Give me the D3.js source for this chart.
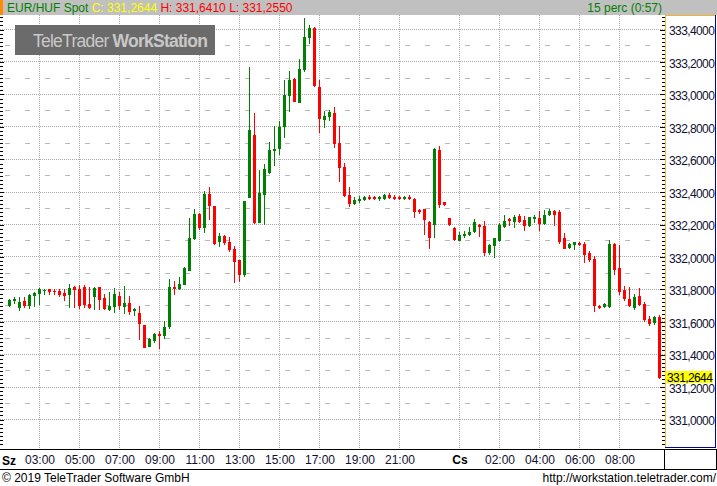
<!DOCTYPE html>
<html><head><meta charset="utf-8">
<script src="https://cdn.jsdelivr.net/npm/d3@7"></script>
<style>
html,body{margin:0;padding:0;background:#fff;}
svg{display:block;font-family:"Liberation Sans",Arial,sans-serif;}
</style></head><body>
<svg id="c" width="717" height="486"></svg>
<script>
// ---- data (EUR/HUF Spot, 15 min candles, Sz 01:30 .. Cs 10:00) ----
const opens = [331.706,331.736,331.693,331.730,331.706,331.769,331.779,331.794,331.800,331.792,
331.790,331.779,331.773,331.816,331.802,331.814,331.712,331.761,331.814,331.749,
331.681,331.700,331.761,331.700,331.718,331.671,331.656,331.581,331.453,331.488,
331.529,331.521,331.576,331.815,331.810,331.835,331.923,332.116,332.264,332.184,
332.387,332.313,332.098,332.128,332.091,332.048,331.981,331.897,332.370,332.750,
332.215,332.387,332.522,332.660,332.670,332.805,332.996,333.094,332.955,333.156,
333.353,333.408,333.045,332.848,332.867,332.887,332.702,332.554,332.382,332.332,
332.351,332.357,332.370,332.370,332.364,332.363,332.382,332.371,332.370,332.364,
332.371,332.357,332.289,332.296,332.216,332.203,332.659,332.339,332.240,332.179,
332.105,332.136,332.142,332.160,332.199,332.191,332.031,332.074,332.106,332.188,
332.235,332.221,332.251,332.227,332.194,332.241,332.241,332.210,332.266,332.284,
332.278,332.118,332.063,332.081,332.087,332.081,332.026,331.989,331.700,331.700,
331.700,332.083,331.933,331.796,331.743,331.693,331.761,331.712,331.620,331.597,
331.630];
const highs = [331.740,331.755,331.753,331.753,331.773,331.786,331.808,331.804,331.804,331.804,
331.802,331.802,331.833,331.823,331.827,331.827,331.814,331.814,331.814,331.773,
331.786,331.808,331.786,331.820,331.761,331.687,331.700,331.581,331.501,331.531,
331.542,331.605,331.864,331.851,331.876,331.940,332.239,332.295,332.270,332.405,
332.430,332.313,332.147,332.135,332.122,332.067,331.981,332.344,333.168,332.885,
332.534,332.571,332.707,332.805,332.836,333.088,333.144,333.101,333.217,333.470,
333.427,333.414,333.088,332.898,332.904,332.922,332.806,332.579,332.431,332.369,
332.375,332.375,332.379,332.375,332.375,332.388,332.394,332.379,332.375,332.377,
332.379,332.363,332.296,332.296,332.222,332.671,332.683,332.339,332.240,332.185,
332.154,332.160,332.185,332.234,332.205,332.222,332.080,332.117,332.210,332.257,
332.241,332.257,332.264,332.251,332.245,332.259,332.284,332.290,332.294,332.290,
332.290,332.149,332.087,332.093,332.093,332.093,332.038,332.007,331.706,331.718,
332.106,332.089,332.075,331.823,331.816,331.773,331.810,331.724,331.638,331.638,
331.641];
const lows = [331.700,331.718,331.675,331.693,331.687,331.700,331.712,331.775,331.773,331.773,
331.759,331.738,331.691,331.693,331.687,331.693,331.687,331.681,331.681,331.681,
331.675,331.663,331.681,331.656,331.652,331.646,331.496,331.447,331.453,331.476,
331.443,331.503,331.564,331.774,331.806,331.831,331.919,332.112,332.171,332.153,
332.233,332.083,332.069,332.079,332.036,331.845,331.851,331.884,332.370,332.208,
332.215,332.202,332.516,332.565,332.633,332.738,332.897,332.961,332.955,333.144,
333.316,333.051,332.768,332.799,332.842,332.676,332.468,332.376,332.314,332.326,
332.339,332.351,332.357,332.357,332.351,332.357,332.363,332.357,332.357,332.357,
332.357,332.246,332.271,332.142,332.056,332.123,332.308,332.320,332.197,332.105,
332.105,332.123,332.136,332.154,332.129,332.012,332.019,332.000,332.100,332.182,
332.198,332.186,332.216,332.167,332.188,332.216,332.167,332.206,332.259,332.198,
332.087,332.056,332.056,332.050,332.075,331.970,331.976,331.669,331.687,331.693,
331.693,331.896,331.773,331.736,331.700,331.681,331.706,331.607,331.583,331.589,
331.255];
const closes = [331.734,331.743,331.724,331.706,331.767,331.777,331.802,331.798,331.792,331.788,
331.773,331.767,331.808,331.804,331.704,331.712,331.693,331.808,331.743,331.687,
331.700,331.773,331.706,331.718,331.669,331.677,331.591,331.447,331.494,331.525,
331.523,331.570,331.814,331.810,331.833,331.931,332.116,332.264,332.184,332.387,
332.319,332.089,332.128,332.091,332.050,331.977,331.897,332.344,332.781,332.215,
332.393,332.541,332.658,332.664,332.799,332.996,333.088,332.961,333.156,333.353,
333.408,333.057,332.854,332.867,332.891,332.703,332.554,332.382,332.332,332.351,
332.355,332.369,332.364,332.364,332.370,332.382,332.369,332.364,332.364,332.370,
332.364,332.283,332.283,332.234,332.123,332.665,332.326,332.326,332.203,332.111,
332.136,332.142,332.156,332.218,332.191,332.031,332.074,332.117,332.200,332.223,
332.227,332.245,332.223,332.198,332.245,332.247,332.210,332.257,332.284,332.266,
332.100,332.056,332.081,332.093,332.081,332.020,331.989,331.706,331.693,331.712,
332.083,331.927,331.792,331.749,331.706,331.755,331.712,331.620,331.595,331.630,
331.2644];
const yTickValues = [333.4,333.2,333.0,332.8,332.6,332.4,332.2,332.0,331.8,331.6,331.4,331.2,331.0];
const yMinorValues = [333.3,333.1,332.9,332.7,332.5,332.3,332.1,331.9,331.7,331.5,331.3,331.1];
const xTickHours = [3,5,7,9,11,13,15,17,19,21,24,26,28,30,32];
const xTickLabels = ["03:00","05:00","07:00","09:00","11:00","13:00","15:00","17:00","19:00","21:00","Cs","02:00","04:00","06:00","08:00"];
const firstDayLabel = "Sz";
const lastPrice = 331.2644;

// ---- scales ----
const day0 = new Date(2019,0,2,0,0);
const tAt = h => new Date(day0.getTime() + h*3600000);
const x = d3.scaleTime().domain([tAt(1), tAt(34)]).range([-0.5, 659.5]);
const y = d3.scaleLinear().domain([331.0, 333.4]).range([419.5, 29.5]);
const candleStart = tAt(1.5);
const data = opens.map((o,i)=>({t:new Date(candleStart.getTime()+i*900000), o, h:highs[i], l:lows[i], c:closes[i]}));

const svg = d3.select("#c");
const PL=0, PR=665, PT=15, PB=449;
const fmt = v => v.toFixed(4).replace(".", ",");

svg.append("rect").attr("width",717).attr("height",486).attr("fill","#fff");

svg.append("clipPath").attr("id","plot").append("rect").attr("x",PL).attr("y",PT).attr("width",PR-PL).attr("height",PB-PT);
const plot = svg.append("g").attr("clip-path","url(#plot)");

// gridlines
const crisp = v => Math.floor(v)+0.5;
plot.selectAll("line.hmaj").data(yTickValues).join("line")
  .attr("x1",0).attr("x2",PR).attr("y1",d=>crisp(y(d))).attr("y2",d=>crisp(y(d)))
  .attr("stroke","#aaaaaa").attr("stroke-dasharray","1,1");
plot.selectAll("line.hmin").data(yMinorValues).join("line")
  .attr("x1",0).attr("x2",PR).attr("y1",d=>crisp(y(d))).attr("y2",d=>crisp(y(d)))
  .attr("stroke","#b8b8b8").attr("stroke-dasharray","5,15").attr("stroke-dashoffset",-5);
plot.selectAll("line.v").data(xTickHours).join("line")
  .attr("x1",d=>crisp(x(tAt(d)))).attr("x2",d=>crisp(x(tAt(d)))).attr("y1",PT).attr("y2",PB)
  .attr("stroke","#aaaaaa").attr("stroke-dasharray","1,1");

// candles
const cg = plot.append("g").attr("shape-rendering","crispEdges");
const cand = cg.selectAll("g").data(data).join("g")
  .attr("fill", d => d.c >= d.o ? "#008000" : "#ff0000");
cand.append("rect")
  .attr("x", d => Math.floor(x(d.t)))
  .attr("width",1)
  .attr("y", d => Math.round(y(d.h)))
  .attr("height", d => Math.max(1, Math.round(y(d.l)) - Math.round(y(d.h)) + 1));
cand.append("rect")
  .attr("x", d => Math.floor(x(d.t)) - 1)
  .attr("width",3)
  .attr("y", d => Math.round(y(Math.max(d.o,d.c))))
  .attr("height", d => Math.max(1, Math.round(y(Math.min(d.o,d.c))) - Math.round(y(Math.max(d.o,d.c))) + 1));

// y axis tick marks (left and right)
const tickVals = d3.range(0, 111).map(k => 330.75 + k*0.025);
const isMaj = v => Math.abs(v*5 - Math.round(v*5)) < 1e-6;
const tg = svg.append("g").attr("shape-rendering","crispEdges").attr("stroke","#000");
tickVals.forEach(v => {
  const yy = Math.round(y(v)) + 0.5;
  if (yy < PT+1 || yy > PB-1) return;
  tg.append("line").attr("x1",0).attr("x2", isMaj(v)?4:3).attr("y1",yy).attr("y2",yy);
  tg.append("line").attr("x1", isMaj(v)?660:662).attr("x2",665).attr("y1",yy).attr("y2",yy);
});

// y axis panel
const ya = svg.append("g").attr("shape-rendering","crispEdges");
ya.append("line").attr("x1",665.5).attr("x2",665.5).attr("y1",15).attr("y2",448).attr("stroke","#f0b828");
ya.append("line").attr("x1",665).attr("x2",716).attr("y1",15.5).attr("y2",15.5).attr("stroke","#f0b828");
ya.append("line").attr("x1",715.5).attr("x2",715.5).attr("y1",15).attr("y2",448).attr("stroke","#0000a0");
ya.append("line").attr("x1",665).attr("x2",716).attr("y1",447.5).attr("y2",447.5).attr("stroke","#0000a0");

const yAxis = d3.axisRight(y).tickValues(yTickValues).tickFormat(fmt).tickSize(0).tickPadding(0);
const yAx = svg.append("g").attr("transform","translate(669,0)").call(yAxis);
yAx.select(".domain").remove();
yAx.selectAll("text").attr("font-size","12px").attr("font-family","Liberation Sans, Arial, sans-serif")
  .attr("fill","#101030").attr("letter-spacing","-0.6px").attr("dy","0.42em").attr("x",0);

// last price box (covers the top of the 331,2000 label, as in the original)
const ly = y(lastPrice);
svg.append("rect").attr("x",665.5).attr("y",Math.round(ly)-6).attr("width",47).attr("height",12).attr("fill","#ffff00");
svg.append("text").attr("x",667).attr("y",ly).attr("dy","0.42em").attr("font-size","12px")
  .attr("letter-spacing","-0.6px").attr("fill","#000").text(fmt(lastPrice));

// x axis row
const xr = svg.append("g").attr("shape-rendering","crispEdges").attr("stroke","#000");
xr.append("line").attr("x1",0).attr("x2",717).attr("y1",449.5).attr("y2",449.5);
xr.append("line").attr("x1",0).attr("x2",717).attr("y1",469.5).attr("y2",469.5);
xr.append("line").attr("x1",664.5).attr("x2",664.5).attr("y1",449).attr("y2",470);
xr.append("line").attr("x1",716.5).attr("x2",716.5).attr("y1",449).attr("y2",470);

const xAxis = d3.axisBottom(x).tickValues(xTickHours.map(tAt)).tickFormat((d,i)=>xTickLabels[i]).tickSize(0).tickPadding(0);
const xAx = svg.append("g").attr("transform","translate(0,455)").call(xAxis);
xAx.select(".domain").remove();
xAx.selectAll("text").attr("font-size","12px").attr("font-family","Liberation Sans, Arial, sans-serif")
  .attr("dy","0.71em")
  .attr("font-weight",(d,i)=>xTickLabels[i]==="Cs"?"bold":"normal")
  .attr("fill",(d,i)=>xTickLabels[i]==="Cs"?"#000":"#101030");
svg.append("text").attr("x",2).attr("y",465).attr("font-size","12px").attr("font-weight","bold").attr("fill","#000").text(firstDayLabel);

// header
svg.append("rect").attr("x",0).attr("y",0).attr("width",717).attr("height",15).attr("fill","#c0c0c0");
svg.append("rect").attr("x",0).attr("y",0).attr("width",3).attr("height",15).attr("fill","#ff8c00");
const ht = svg.append("text").attr("x",7).attr("y",11.5).attr("font-size","12px");
ht.append("tspan").attr("fill","#008000").text("EUR/HUF Spot ");
ht.append("tspan").attr("fill","#ffff00").text("C: 331,2644 ");
ht.append("tspan").attr("fill","#ff0000").text("H: 331,6410 L: 331,2550");
svg.append("text").attr("x",662).attr("y",11.5).attr("text-anchor","end").attr("font-size","12px").attr("fill","#008000").text("15 perc (0:57)");

// watermark
svg.append("rect").attr("x",15).attr("y",25).attr("width",200).attr("height",30).attr("fill","#6b6b6b");
const wm = svg.append("text").attr("x",33).attr("y",46.5).attr("font-size","17.5px").attr("letter-spacing","-0.75px").attr("fill","#c8c8c8");
wm.append("tspan").text("TeleTrader ");
wm.append("tspan").attr("font-weight","bold").text("WorkStation");

// footer
svg.append("text").attr("x",2).attr("y",482).attr("font-size","12px").attr("fill","#000").text("© 2019 TeleTrader Software GmbH");
svg.append("text").attr("x",716).attr("y",482).attr("text-anchor","end").attr("font-size","12px").attr("fill","#000").text("http://workstation.teletrader.com/");
</script>
</body></html>
